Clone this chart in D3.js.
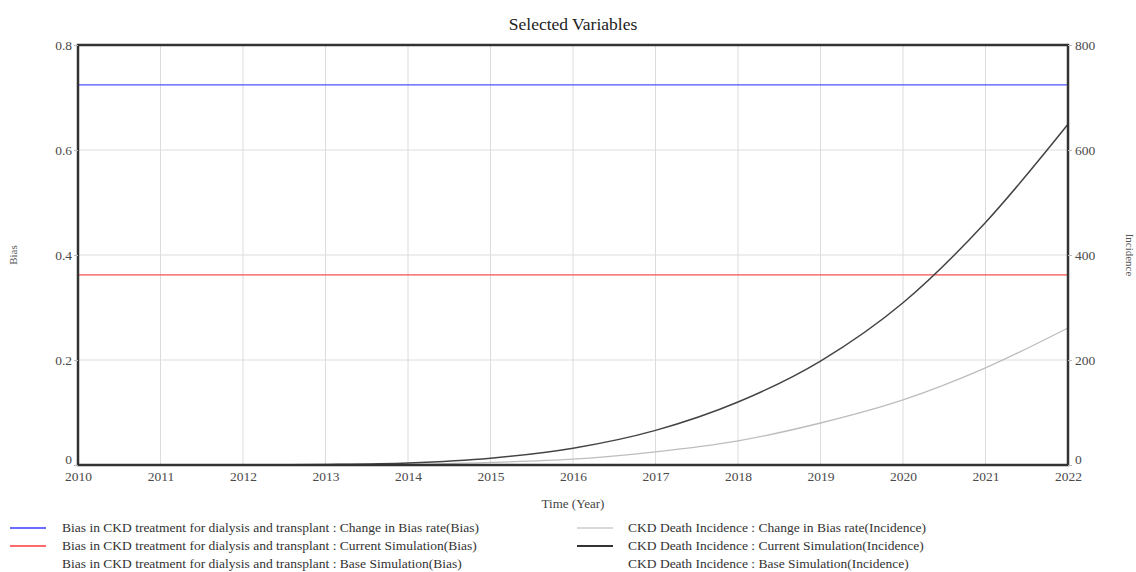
<!DOCTYPE html>
<html>
<head>
<meta charset="utf-8">
<script src="https://cdn.jsdelivr.net/npm/d3@7"></script>
<style>
  body { margin: 0; background: #fff; }
  text { font-family: "Liberation Serif", "DejaVu Serif", serif; }
</style>
</head>
<body>
<div id="chart"></div>
<script>
// chart data
const years = [2010, 2011, 2012, 2013, 2014, 2015, 2016, 2017, 2018, 2019, 2020, 2021, 2022];
const biasChange = 0.724;   // Change in Bias rate(Bias)
const biasCurrent = 0.362;  // Current Simulation(Bias)
const incidenceChange = [0, 0, 0, 0, 1, 5, 11, 25, 46, 80, 124, 185, 261];
const incidenceCurrent = [0, 0, 0, 1, 4, 13, 32, 66, 120, 198, 309, 462, 649];
const biasTicks = [0, 0.2, 0.4, 0.6, 0.8];
const incidenceTicks = [0, 200, 400, 600, 800];
const legendLeft = [
    { label: 'Bias in CKD treatment for dialysis and transplant : Change in Bias rate(Bias)', color: '#3a3aff', width: 1.5 },
    { label: 'Bias in CKD treatment for dialysis and transplant : Current Simulation(Bias)', color: '#ff3a3a', width: 1.5 },
    { label: 'Bias in CKD treatment for dialysis and transplant : Base Simulation(Bias)', color: null, width: 0 }
];
const legendRight = [
    { label: 'CKD Death Incidence : Change in Bias rate(Incidence)', color: '#b4b4b4', width: 1.2 },
    { label: 'CKD Death Incidence : Current Simulation(Incidence)', color: '#333333', width: 2 },
    { label: 'CKD Death Incidence : Base Simulation(Incidence)', color: null, width: 0 }
];

const width = 1136, height = 572;
const margin = { top: 45, right: 68, bottom: 107, left: 78 };

const svg = d3.select('#chart').append('svg')
    .attr('width', width)
    .attr('height', height);

const x = d3.scaleLinear()
    .domain([2010, 2022])
    .range([margin.left, width - margin.right]);
const yBias = d3.scaleLinear()
    .domain([0, 0.8])
    .range([height - margin.bottom, margin.top]);
const yInc = d3.scaleLinear()
    .domain([0, 800])
    .range([height - margin.bottom, margin.top]);

// title
svg.append('text')
    .attr('x', (margin.left + width - margin.right) / 2)
    .attr('y', 30)
    .attr('text-anchor', 'middle')
    .attr('font-size', '17.5px')
    .attr('fill', '#222')
    .text('Selected Variables');

// gridlines
const grid = svg.append('g');
grid.selectAll('line.v')
    .data(years.slice(1, -1))
    .enter().append('line')
    .attr('x1', d => x(d)).attr('x2', d => x(d))
    .attr('y1', margin.top).attr('y2', height - margin.bottom)
    .attr('stroke', '#dcdcdc').attr('stroke-width', 1);
grid.selectAll('line.h')
    .data(biasTicks.slice(1, -1))
    .enter().append('line')
    .attr('x1', margin.left).attr('x2', width - margin.right)
    .attr('y1', d => yBias(d)).attr('y2', d => yBias(d))
    .attr('stroke', '#dcdcdc').attr('stroke-width', 1);

// bias lines (constant)
const biasLine = d3.line().x(d => x(d[0])).y(d => yBias(d[1]));
svg.append('path')
    .datum(years.map(yr => [yr, biasChange]))
    .attr('d', biasLine)
    .attr('fill', 'none').attr('stroke', '#5050ff').attr('stroke-width', 1.3);
svg.append('path')
    .datum(years.map(yr => [yr, biasCurrent]))
    .attr('d', biasLine)
    .attr('fill', 'none').attr('stroke', '#ff5050').attr('stroke-width', 1.3);

// incidence curves
const incLine = d3.line()
    .x((d, i) => x(years[i]))
    .y(d => yInc(d))
    .curve(d3.curveMonotoneX);
svg.append('path')
    .datum(incidenceChange)
    .attr('d', incLine)
    .attr('fill', 'none').attr('stroke', '#bdbdbd').attr('stroke-width', 1.3);
svg.append('path')
    .datum(incidenceCurrent)
    .attr('d', incLine)
    .attr('fill', 'none').attr('stroke', '#444').attr('stroke-width', 1.5);

// frame
svg.append('rect')
    .attr('x', margin.left).attr('y', margin.top)
    .attr('width', width - margin.left - margin.right)
    .attr('height', height - margin.top - margin.bottom)
    .attr('fill', 'none').attr('stroke', '#333').attr('stroke-width', 2.5);

// left axis
const leftAxis = svg.append('g')
    .attr('transform', `translate(${margin.left},0)`)
    .call(d3.axisLeft(yBias).tickValues(biasTicks).tickSize(4).tickFormat(d3.format('')));
// right axis
const rightAxis = svg.append('g')
    .attr('transform', `translate(${width - margin.right},0)`)
    .call(d3.axisRight(yInc).tickValues(incidenceTicks).tickSize(4));
// bottom axis
const bottomAxis = svg.append('g')
    .attr('transform', `translate(0,${height - margin.bottom})`)
    .call(d3.axisBottom(x).tickValues(years).tickSize(0).tickFormat(d3.format('d')));

[leftAxis, rightAxis, bottomAxis].forEach(g => {
    g.select('.domain').remove();
    g.selectAll('.tick line').attr('stroke', '#bbb');
    g.selectAll('.tick text')
        .attr('font-family', '"Liberation Serif", serif')
        .attr('font-size', '13.5px')
        .attr('fill', '#4a4a4a');
});
leftAxis.selectAll('.tick text').attr('x', -6);
rightAxis.selectAll('.tick text').attr('x', 7);
bottomAxis.selectAll('.tick text').attr('y', 6);
// zero labels sit a bit above the corner
leftAxis.selectAll('.tick').filter(d => d === 0).select('text').attr('dy', '-0.1em');
rightAxis.selectAll('.tick').filter(d => d === 0).select('text').attr('dy', '-0.1em');

// axis titles
svg.append('text')
    .attr('transform', `translate(17,${(margin.top + height - margin.bottom) / 2}) rotate(-90)`)
    .attr('text-anchor', 'middle')
    .attr('font-size', '11px')
    .attr('fill', '#555')
    .text('Bias');
svg.append('text')
    .attr('transform', `translate(1126,${(margin.top + height - margin.bottom) / 2}) rotate(90)`)
    .attr('text-anchor', 'middle')
    .attr('font-size', '11px')
    .attr('fill', '#555')
    .text('Incidence');
svg.append('text')
    .attr('x', (margin.left + width - margin.right) / 2)
    .attr('y', 508)
    .attr('text-anchor', 'middle')
    .attr('font-size', '13px')
    .attr('fill', '#444')
    .text('Time (Year)');

// legend
function drawLegend(items, lx, tx) {
    const g = svg.append('g');
    items.forEach((d, i) => {
        const yy = 528 + i * 18;
        if (d.color) {
            g.append('line')
                .attr('x1', lx).attr('x2', lx + 36)
                .attr('y1', yy).attr('y2', yy)
                .attr('stroke', d.color).attr('stroke-width', d.width);
        }
        g.append('text')
            .attr('x', tx).attr('y', yy + 4)
            .attr('font-size', '13.5px')
            .attr('fill', '#333')
            .text(d.label);
    });
}
drawLegend(legendLeft, 10, 62);
drawLegend(legendRight, 577, 628);
</script>
</body>
</html>
